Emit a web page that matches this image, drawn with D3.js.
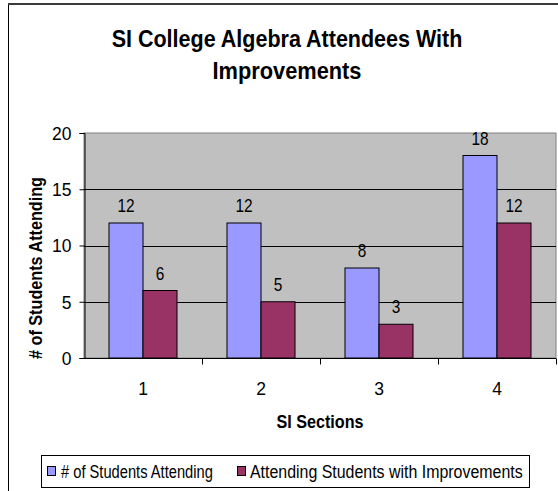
<!DOCTYPE html>
<html>
<head>
<meta charset="utf-8">
<script src="https://cdn.jsdelivr.net/npm/d3@7"></script>
<style>
  html, body { margin: 0; padding: 0; background: #ffffff; }
  svg { display: block; }
  svg text { font-family: "Liberation Sans", Arial, sans-serif; }
</style>
</head>
<body>
<svg id="chart" width="558" height="491"></svg>
<script>
// Chart data
const sections = ["1", "2", "3", "4"];
const attending = [12, 12, 8, 18];
const improved = [6, 5, 3, 12];
const seriesNames = ["# of Students Attending", "Attending Students with Improvements"];
const seriesColors = ["#9999ff", "#993366"];
const yTicks = [0, 5, 10, 15, 20];

const svg = d3.select("#chart");

// Squeeze a text horizontally to a target width around its anchor point,
// using a transform so the drawn box matches the drawn glyphs.
function squeezeTo(sel, x, y, width) {
  sel.each(function (d, i) {
    const node = d3.select(this);
    const natural = this.getComputedTextLength();
    const w = typeof width === "function" ? width(d, i) : width;
    const px = typeof x === "function" ? x(d, i) : x;
    const py = typeof y === "function" ? y(d, i) : y;
    const f = Math.min(1, w / natural);
    node.attr("x", 0).attr("y", 0)
      .attr("transform", `translate(${px},${py}) scale(${f},1)`);
  });
}

// Outer chart frame
svg.append("rect")
  .attr("x", 8.5).attr("y", 3.5)
  .attr("width", 600).attr("height", 600)
  .attr("fill", "#ffffff")
  .attr("stroke", "#000000").attr("stroke-width", 1);
svg.append("line")
  .attr("x1", 8).attr("x2", 558).attr("y1", 4).attr("y2", 4)
  .attr("stroke", "#3a3a3a").attr("stroke-width", 2);

// Plot area
const plot = { left: 84, right: 556, top: 133, bottom: 358 };

const x = d3.scaleBand()
  .domain(sections)
  .range([plot.left, plot.right])
  .paddingInner(0).paddingOuter(0);

const inner = d3.scaleBand()
  .domain([0, 1])
  .range([0, x.bandwidth()])
  .paddingInner(0)
  .paddingOuter(0.735);

const y = d3.scaleLinear().domain([0, 20]).range([plot.bottom, plot.top]);

svg.append("rect")
  .attr("x", plot.left).attr("y", plot.top)
  .attr("width", plot.right - plot.left).attr("height", plot.bottom - plot.top)
  .attr("fill", "#c0c0c0")
  .attr("stroke", "#808080").attr("stroke-width", 1);

// Horizontal gridlines
svg.append("g")
  .selectAll("line")
  .data(yTicks.filter(d => d > 0 && d < 20))
  .join("line")
  .attr("x1", plot.left).attr("x2", plot.right)
  .attr("y1", d => Math.round(y(d)) + 0.5).attr("y2", d => Math.round(y(d)) + 0.5)
  .attr("stroke", "#000000").attr("stroke-width", 1);

// Bars
const data = sections.map((s, i) => ({ s, vals: [attending[i], improved[i]] }));

const groups = svg.append("g")
  .selectAll("g")
  .data(data)
  .join("g")
  .attr("transform", d => `translate(${x(d.s)},0)`);

groups.selectAll("rect")
  .data(d => d.vals.map((v, k) => ({ v, k })))
  .join("rect")
  .attr("x", d => inner(d.k))
  .attr("y", d => y(d.v))
  .attr("width", inner.bandwidth())
  .attr("height", d => y(0) - y(d.v))
  .attr("fill", d => seriesColors[d.k])
  .attr("stroke", "#000000").attr("stroke-width", 1);

// Value labels
groups.selectAll("text")
  .data(d => d.vals.map((v, k) => ({ v, k })))
  .join("text")
  .attr("text-anchor", "middle")
  .attr("font-size", 18)
  .attr("fill", "#000000")
  .text(d => d.v)
  .call(squeezeTo,
    d => inner(d.k) + inner.bandwidth() / 2,
    d => y(d.v) - 11,
    d => String(d.v).length * 8.6);

// Y axis
const yAxis = d3.axisLeft(y).tickValues(yTicks).tickSize(5).tickPadding(8);
const gy = svg.append("g")
  .attr("transform", `translate(${plot.left + 0.5},0)`)
  .call(yAxis);
gy.attr("font-family", null).attr("font-size", null);
gy.select(".domain").attr("stroke", "#000000");
gy.selectAll(".tick line").attr("stroke", "#000000");
gy.selectAll(".tick text")
  .attr("font-size", 17.5)
  .attr("dy", "0.36em")
  .attr("fill", "#000000");

// X axis with ticks at category boundaries
const gx = svg.append("g")
  .attr("transform", `translate(0,${plot.bottom + 0.5})`);
gx.append("line")
  .attr("x1", plot.left).attr("x2", plot.right)
  .attr("stroke", "#000000");
gx.selectAll("line.tick")
  .data(sections)
  .join("line")
  .attr("class", "tick")
  .attr("x1", d => Math.round(x(d) + x.bandwidth()) + 0.5)
  .attr("x2", d => Math.round(x(d) + x.bandwidth()) + 0.5)
  .attr("y1", 0).attr("y2", 6)
  .attr("stroke", "#000000");
gx.selectAll("text")
  .data(sections)
  .join("text")
  .attr("x", d => x(d) + x.bandwidth() / 2)
  .attr("y", 36)
  .attr("text-anchor", "middle")
  .attr("font-size", 17.5)
  .text(d => d);

// Axis titles
svg.append("text")
  .attr("text-anchor", "middle")
  .attr("font-size", 18.5)
  .attr("font-weight", "bold")
  .text("SI Sections")
  .call(squeezeTo, (plot.left + plot.right) / 2, 428, 87);

svg.append("g")
  .attr("transform", "translate(42,268) rotate(-90)")
  .append("text")
  .attr("text-anchor", "middle")
  .attr("font-size", 18.5)
  .attr("font-weight", "bold")
  .text("# of Students Attending")
  .call(squeezeTo, 0, 0, 182);

// Title
const titleLines = ["SI College Algebra Attendees With", "Improvements"];
const titleWidths = [351, 149];
svg.append("g")
  .selectAll("text")
  .data(titleLines)
  .join("text")
  .attr("text-anchor", "middle")
  .attr("font-size", 23.5)
  .attr("font-weight", "bold")
  .text(d => d)
  .call(squeezeTo, 287, (d, i) => 46.5 + i * 32, (d, i) => titleWidths[i]);

// Legend
const legend = svg.append("g");
legend.append("rect")
  .attr("x", 41.5).attr("y", 455.5)
  .attr("width", 488).attr("height", 32)
  .attr("fill", "#ffffff")
  .attr("stroke", "#000000");

const legendItems = [
  { name: seriesNames[0], color: seriesColors[0], sx: 47, tx: 61, w: 152 },
  { name: seriesNames[1], color: seriesColors[1], sx: 237, tx: 250, w: 273 }
];
legend.selectAll("rect.sw")
  .data(legendItems)
  .join("rect")
  .attr("class", "sw")
  .attr("x", d => d.sx + 0.5).attr("y", 466.5)
  .attr("width", 8).attr("height", 9)
  .attr("fill", d => d.color)
  .attr("stroke", "#000000");
legend.selectAll("text")
  .data(legendItems)
  .join("text")
  .attr("font-size", 19)
  .text(d => d.name)
  .call(squeezeTo, d => d.tx, 478, d => d.w);
</script>
</body>
</html>
